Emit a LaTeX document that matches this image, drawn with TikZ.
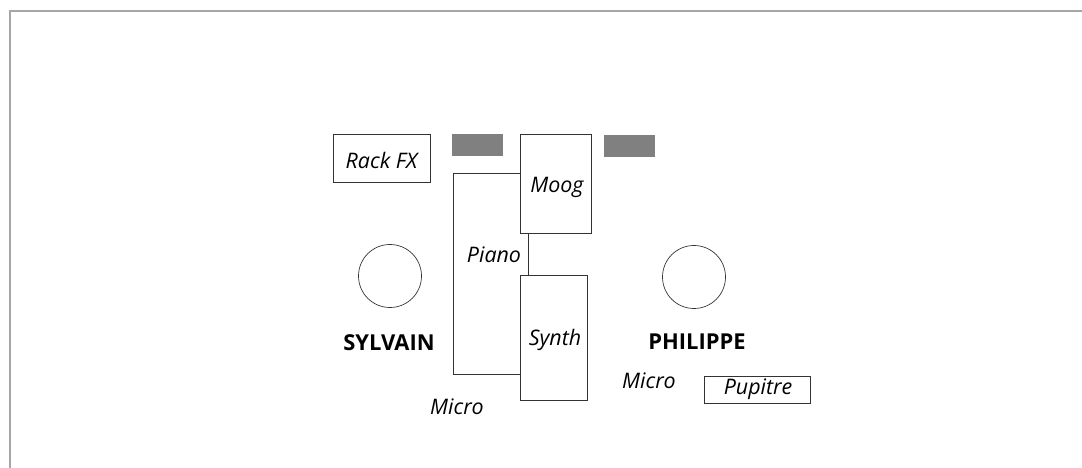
\documentclass[tikz,border=0pt]{standalone}
\usepackage{fontspec}
\setmainfont{Open Sans}
\begin{document}
\begin{tikzpicture}[x=1bp,y=-1bp,
  box/.style={draw=black!80,line width=0.8pt,fill=white,inner sep=0pt},
  pad/.style={fill=black!50,draw=none},
  lbl/.style={font=\fontsize{21.5}{25}\selectfont\itshape,inner sep=0pt},
  whoname/.style={font=\fontsize{22}{26}\selectfont\bfseries,inner sep=0pt},
  person/.style={circle,draw=black!80,line width=0.7pt,minimum size=63bp,inner sep=0pt}]
\useasboundingbox (0,0) rectangle (1082,468);
% frame
\draw[black!35,line width=1.6pt] (10,468) -- (10,11) -- (1082,11);
% rack FX
\draw[box] (333,134) rectangle (430,182);
\node[lbl] (rack) at (381.5,160) {Rack FX};
% pads
\fill[pad] (452,134) rectangle (503,156);
\fill[pad] (604,135) rectangle (655,157);
% piano
\draw[box] (453,173) rectangle (528,374);
\node[lbl] (piano) at (494,255) {Piano};
% moog
\draw[box] (520,134) rectangle (591,233);
\node[lbl] (moog) at (557,187) {Moog};
% synth
\draw[box] (520,275) rectangle (587,400);
\node[lbl] (synth) at (555,340) {Synth};
% persons
\node[person] (sylvain) at (390,276) {};
\node[person] (philippe) at (694,277) {};
\node[whoname] (sname) at (389,343) {SYLVAIN};
\node[whoname] (pname) at (697,342) {PHILIPPE};
% micros
\node[lbl] (micro1) at (457,407) {Micro};
\node[lbl] (micro2) at (649,381) {Micro};
% pupitre
\draw[box] (704,376) rectangle (810,403);
\node[lbl] (pupitre) at (758,389) {Pupitre};
\end{tikzpicture}
\end{document}
